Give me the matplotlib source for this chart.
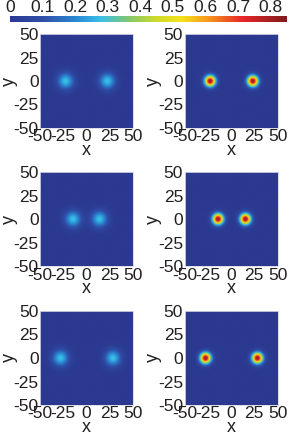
import numpy as np
import matplotlib
matplotlib.use("Agg")
import matplotlib.pyplot as plt
from matplotlib.colors import LinearSegmentedColormap

plt.rcParams["font.family"] = ["Liberation Sans", "DejaVu Sans"]
plt.rcParams["axes.unicode_minus"] = False

# blob centres (x, y = 0) for each panel, row by row: [left, right]
CENTERS = [[(-22.5, 22.5), (-23.0, 23.0)],
           [(-14.5, 14.0), (-14.5, 15.0)],
           [(-28.0, 28.5), (-28.0, 28.0)]]
PEAKS = [0.28, 0.82]      # left column, right column
WIDTHS = [9.0, 6.0]
VMAX = 0.85
CBAR_TICKS = [0, 0.1, 0.2, 0.3, 0.4, 0.5, 0.6, 0.7, 0.8]
AX_TICKS = [-50, -25, 0, 25, 50]

cmap = LinearSegmentedColormap.from_list("printjet", [
    (0.00, "#2b3990"), (0.12, "#2f4fa8"), (0.25, "#2a8fd6"),
    (0.33, "#3cc0e8"), (0.42, "#7cc576"), (0.52, "#c8d92e"),
    (0.62, "#f6e21a"), (0.72, "#f7941d"), (0.84, "#e8262a"),
    (1.00, "#7f1a1c")])

n = 301
xs = np.linspace(-50, 50, n)
X, Y = np.meshgrid(xs, xs)

W, H = 289, 440
fig = plt.figure(figsize=(W / 100, H / 100), dpi=100)

col_left = [40 / W, 184.5 / W]
row_top = [34, 172.3, 311]
size_w = 93 / W
size_h = 94 / H
fs = 12.5

im = None
for r in range(3):
    for c in range(2):
        ax = fig.add_axes([col_left[c], 1 - (row_top[r] + 94) / H, size_w, size_h])
        Z = np.zeros_like(X)
        for cx in CENTERS[r][c]:
            Z += PEAKS[c] * np.exp(-((X - cx) ** 2 + Y ** 2) / WIDTHS[c] ** 2)
        im = ax.imshow(Z, extent=[-50, 50, -50, 50], origin="lower",
                       cmap=cmap, vmin=0, vmax=VMAX, aspect="auto",
                       interpolation="bilinear")
        ax.set_xticks(AX_TICKS)
        ax.set_yticks(AX_TICKS)
        ax.tick_params(labelsize=fs, length=0, pad=1, colors="#231f20")
        ax.set_xlabel("x", fontsize=fs + 0.5, labelpad=-2, color="#231f20")
        ax.set_ylabel("y", fontsize=fs + 0.5, labelpad=-3, color="#231f20")
        for s in ax.spines.values():
            s.set_color("#d8d8e8")
            s.set_linewidth(0.6)

cax = fig.add_axes([10 / W, 1 - 22 / H, 277 / W, 6 / H])
cb = fig.colorbar(im, cax=cax, orientation="horizontal", ticks=CBAR_TICKS)
cb.ax.xaxis.set_ticks_position("top")
cb.ax.xaxis.set_label_position("top")
cb.ax.set_xticklabels(["0", "0.1", "0.2", "0.3", "0.4", "0.5", "0.6", "0.7", "0.8"])
cb.ax.tick_params(labelsize=fs, length=0, pad=0.5, colors="#231f20")
cb.outline.set_visible(False)

fig.savefig("out.png", dpi=100)
